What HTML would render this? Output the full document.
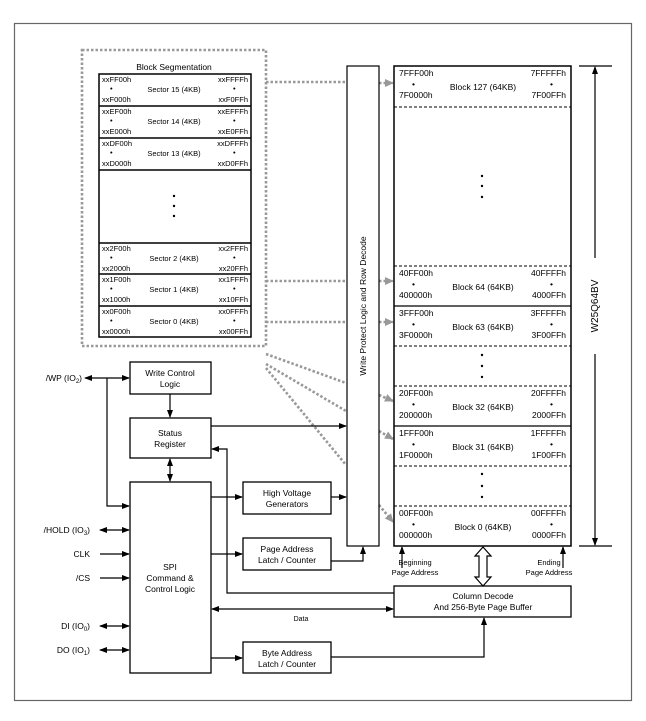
<!DOCTYPE html>
<html><head><meta charset="utf-8"><style>
body{margin:0;background:#fff}
svg{display:block;font-family:"Liberation Sans",Arial,sans-serif}
</style></head><body>
<svg width="646" height="721" viewBox="0 0 646 721" xmlns="http://www.w3.org/2000/svg">
<defs>
<marker id="a" markerWidth="8" markerHeight="6" refX="7" refY="3" orient="auto" markerUnits="userSpaceOnUse"><path d="M0,0 L8,3 L0,6z" fill="#000"/></marker>
<marker id="s" markerWidth="8" markerHeight="6" refX="1" refY="3" orient="auto" markerUnits="userSpaceOnUse"><path d="M8,0 L0,3 L8,6z" fill="#000"/></marker>
<marker id="g" markerWidth="9" markerHeight="8" refX="8" refY="4" orient="auto" markerUnits="userSpaceOnUse"><path d="M0,0 L9,4 L0,8z" fill="#999"/></marker>
</defs>
<rect x="14.5" y="23.5" width="617" height="677" fill="none" stroke="#666" stroke-width="1.2"/>
<g fill="none" stroke="#999" stroke-width="2.6" stroke-dasharray="2.5 2">
<rect x="82" y="50" width="184" height="296"/>
<line x1="266" y1="82" x2="346" y2="82"/>
<line x1="379" y1="83" x2="393" y2="83" marker-end="url(#g)"/>
<line x1="266" y1="281" x2="346" y2="281"/>
<line x1="379" y1="281" x2="393" y2="281" marker-end="url(#g)"/>
<line x1="266" y1="322" x2="346" y2="322"/>
<line x1="379" y1="322" x2="393" y2="322" marker-end="url(#g)"/>
<line x1="266" y1="354" x2="346" y2="383"/>
<line x1="266" y1="364" x2="346" y2="411"/>
<line x1="266" y1="368" x2="346" y2="465"/>
<line x1="379" y1="395" x2="393" y2="401" marker-end="url(#g)"/>
<line x1="379" y1="431" x2="393" y2="439" marker-end="url(#g)"/>
<line x1="379" y1="505" x2="393" y2="522" marker-end="url(#g)"/>
</g>
<text x="174" y="70" font-size="8.5" text-anchor="middle">Block Segmentation</text>
<g stroke="#000" fill="none" stroke-width="1.5">
<rect x="99" y="74" width="152" height="263"/>
<line x1="99" y1="106" x2="251" y2="106"/><line x1="99" y1="138" x2="251" y2="138"/><line x1="99" y1="170" x2="251" y2="170"/>
<line x1="99" y1="243" x2="251" y2="243"/><line x1="99" y1="274" x2="251" y2="274"/><line x1="99" y1="306" x2="251" y2="306"/>
</g>
<g font-size="7.5">
<g transform="translate(0,74)"><text x="102" y="8">xxFF00h</text><text x="110" y="17">•</text><text x="102" y="28">xxF000h</text><text x="174" y="18" text-anchor="middle">Sector 15 (4KB)</text><text x="248" y="8" text-anchor="end">xxFFFFh</text><text x="233" y="17">•</text><text x="248" y="28" text-anchor="end">xxF0FFh</text></g>
<g transform="translate(0,106)"><text x="102" y="8">xxEF00h</text><text x="110" y="17">•</text><text x="102" y="28">xxE000h</text><text x="174" y="18" text-anchor="middle">Sector 14 (4KB)</text><text x="248" y="8" text-anchor="end">xxEFFFh</text><text x="233" y="17">•</text><text x="248" y="28" text-anchor="end">xxE0FFh</text></g>
<g transform="translate(0,138)"><text x="102" y="8">xxDF00h</text><text x="110" y="17">•</text><text x="102" y="28">xxD000h</text><text x="174" y="18" text-anchor="middle">Sector 13 (4KB)</text><text x="248" y="8" text-anchor="end">xxDFFFh</text><text x="233" y="17">•</text><text x="248" y="28" text-anchor="end">xxD0FFh</text></g>
<g transform="translate(0,243)"><text x="102" y="8">xx2F00h</text><text x="110" y="17">•</text><text x="102" y="28">xx2000h</text><text x="174" y="18" text-anchor="middle">Sector 2 (4KB)</text><text x="248" y="8" text-anchor="end">xx2FFFh</text><text x="233" y="17">•</text><text x="248" y="28" text-anchor="end">xx20FFh</text></g>
<g transform="translate(0,274)"><text x="102" y="8">xx1F00h</text><text x="110" y="17">•</text><text x="102" y="28">xx1000h</text><text x="174" y="18" text-anchor="middle">Sector 1 (4KB)</text><text x="248" y="8" text-anchor="end">xx1FFFh</text><text x="233" y="17">•</text><text x="248" y="28" text-anchor="end">xx10FFh</text></g>
<g transform="translate(0,306)"><text x="102" y="8">xx0F00h</text><text x="110" y="17">•</text><text x="102" y="28">xx0000h</text><text x="174" y="18" text-anchor="middle">Sector 0 (4KB)</text><text x="248" y="8" text-anchor="end">xx0FFFh</text><text x="233" y="17">•</text><text x="248" y="28" text-anchor="end">xx00FFh</text></g>
</g>
<g fill="#000"><circle cx="174" cy="196" r="1.2"/><circle cx="174" cy="206" r="1.2"/><circle cx="174" cy="216" r="1.2"/></g>

<rect x="347" y="66" width="32" height="480" fill="none" stroke="#000" stroke-width="1.2"/>
<text transform="translate(366,306) rotate(-90)" font-size="8.5" text-anchor="middle">Write Protect Logic and Row Decode</text>

<g stroke="#000" fill="none">
<rect x="394" y="66" width="177" height="480" stroke-width="1.5"/>
<g stroke-dasharray="3 2" stroke-width="1"><line x1="394" y1="107" x2="571" y2="107"/><line x1="394" y1="266" x2="571" y2="266"/><line x1="394" y1="346" x2="571" y2="346"/><line x1="394" y1="386" x2="571" y2="386"/><line x1="394" y1="466" x2="571" y2="466"/><line x1="394" y1="506" x2="571" y2="506"/></g>
<line x1="394" y1="306" x2="571" y2="306" stroke-width="1.2"/><line x1="394" y1="426" x2="571" y2="426" stroke-width="1.2"/>
</g>
<g font-size="8.5">
<g transform="translate(0,66)"><text x="399" y="10">7FFF00h</text><text x="412" y="21">•</text><text x="399" y="32">7F0000h</text><text x="483" y="24" text-anchor="middle">Block 127 (64KB)</text><text x="566" y="10" text-anchor="end">7FFFFFh</text><text x="550" y="21">•</text><text x="566" y="32" text-anchor="end">7F00FFh</text></g>
<g transform="translate(0,266)"><text x="399" y="10">40FF00h</text><text x="412" y="21">•</text><text x="399" y="32">400000h</text><text x="483" y="24" text-anchor="middle">Block 64 (64KB)</text><text x="566" y="10" text-anchor="end">40FFFFh</text><text x="550" y="21">•</text><text x="566" y="32" text-anchor="end">4000FFh</text></g>
<g transform="translate(0,306)"><text x="399" y="10">3FFF00h</text><text x="412" y="21">•</text><text x="399" y="32">3F0000h</text><text x="483" y="24" text-anchor="middle">Block 63 (64KB)</text><text x="566" y="10" text-anchor="end">3FFFFFh</text><text x="550" y="21">•</text><text x="566" y="32" text-anchor="end">3F00FFh</text></g>
<g transform="translate(0,386)"><text x="399" y="10">20FF00h</text><text x="412" y="21">•</text><text x="399" y="32">200000h</text><text x="483" y="24" text-anchor="middle">Block 32 (64KB)</text><text x="566" y="10" text-anchor="end">20FFFFh</text><text x="550" y="21">•</text><text x="566" y="32" text-anchor="end">2000FFh</text></g>
<g transform="translate(0,426)"><text x="399" y="10">1FFF00h</text><text x="412" y="21">•</text><text x="399" y="32">1F0000h</text><text x="483" y="24" text-anchor="middle">Block 31 (64KB)</text><text x="566" y="10" text-anchor="end">1FFFFFh</text><text x="550" y="21">•</text><text x="566" y="32" text-anchor="end">1F00FFh</text></g>
<g transform="translate(0,506)"><text x="399" y="10">00FF00h</text><text x="412" y="21">•</text><text x="399" y="32">000000h</text><text x="483" y="24" text-anchor="middle">Block 0 (64KB)</text><text x="566" y="10" text-anchor="end">00FFFFh</text><text x="550" y="21">•</text><text x="566" y="32" text-anchor="end">0000FFh</text></g>
</g>
<g fill="#000"><circle cx="482" cy="176" r="1.2"/><circle cx="482" cy="186" r="1.2"/><circle cx="482" cy="197" r="1.2"/>
<circle cx="482" cy="355" r="1.2"/><circle cx="482" cy="366" r="1.2"/><circle cx="482" cy="377" r="1.2"/>
<circle cx="482" cy="474" r="1.2"/><circle cx="482" cy="486" r="1.2"/><circle cx="482" cy="497" r="1.2"/></g>

<g stroke="#000" stroke-width="1.2" fill="none">
<line x1="579" y1="66" x2="612" y2="66"/><line x1="579" y1="546" x2="612" y2="546"/>
<line x1="595" y1="258" x2="595" y2="67" marker-end="url(#a)"/>
<line x1="595" y1="354" x2="595" y2="545" marker-end="url(#a)"/>
</g>
<text transform="translate(598,306) rotate(-90)" font-size="10" text-anchor="middle">W25Q64BV</text>

<g stroke="#000" stroke-width="1.3" fill="none">
<rect x="130" y="362" width="81" height="32"/>
<rect x="130" y="418" width="81" height="40"/>
<rect x="130" y="482" width="81" height="191"/>
<rect x="243" y="482" width="88" height="32"/>
<rect x="243" y="538" width="88" height="32"/>
<rect x="243" y="642" width="88" height="31"/>
<rect x="394" y="586" width="177" height="31"/>
</g>
<g font-size="8.5" text-anchor="middle">
<text x="170" y="376">Write Control</text><text x="170" y="387">Logic</text>
<text x="170" y="436">Status</text><text x="170" y="447">Register</text>
<text x="170" y="570">SPI</text><text x="170" y="581">Command &amp;</text><text x="170" y="592">Control Logic</text>
<text x="287" y="496">High Voltage</text><text x="287" y="507">Generators</text>
<text x="287" y="552">Page Address</text><text x="287" y="563">Latch / Counter</text>
<text x="287" y="656">Byte Address</text><text x="287" y="667">Latch / Counter</text>
<text x="483" y="599">Column Decode</text><text x="483" y="610">And 256-Byte Page Buffer</text>
<text x="301" y="621" font-size="7">Data</text>
<text x="415" y="565" font-size="7.5">Beginning</text><text x="415" y="575" font-size="7.5">Page Address</text>
<text x="549" y="565" font-size="7.5">Ending</text><text x="549" y="575" font-size="7.5">Page Address</text>
</g>
<g font-size="8.5" text-anchor="end">
<text x="82" y="381">/WP (IO<tspan font-size="6" dy="2">2</tspan><tspan dy="-2">)</tspan></text>
<text x="90" y="533">/HOLD (IO<tspan font-size="6" dy="2">3</tspan><tspan dy="-2">)</tspan></text>
<text x="90" y="557">CLK</text>
<text x="90" y="581">/CS</text>
<text x="90" y="629">DI (IO<tspan font-size="6" dy="2">0</tspan><tspan dy="-2">)</tspan></text>
<text x="90" y="653">DO (IO<tspan font-size="6" dy="2">1</tspan><tspan dy="-2">)</tspan></text>
</g>
<g stroke="#000" stroke-width="1.2" fill="none">
<line x1="85" y1="378" x2="129" y2="378" marker-start="url(#s)" marker-end="url(#a)"/>
<polyline points="107,378 107,506 129,506" marker-end="url(#a)"/>
<line x1="170" y1="394" x2="170" y2="417" marker-end="url(#a)"/>
<line x1="170" y1="459" x2="170" y2="481" marker-start="url(#s)" marker-end="url(#a)"/>
<line x1="100" y1="530" x2="129" y2="530" marker-start="url(#s)" marker-end="url(#a)"/>
<line x1="100" y1="554" x2="129" y2="554" marker-end="url(#a)"/>
<line x1="100" y1="578" x2="129" y2="578" marker-end="url(#a)"/>
<line x1="100" y1="626" x2="129" y2="626" marker-start="url(#s)" marker-end="url(#a)"/>
<line x1="100" y1="650" x2="129" y2="650" marker-start="url(#s)" marker-end="url(#a)"/>
<line x1="211" y1="426" x2="346" y2="426" marker-end="url(#a)"/>
<polyline points="394,593 227,593 227,449 212,449" marker-end="url(#a)"/>
<line x1="211" y1="497" x2="242" y2="497" marker-end="url(#a)"/>
<line x1="211" y1="554" x2="242" y2="554" marker-end="url(#a)"/>
<line x1="211" y1="658" x2="242" y2="658" marker-end="url(#a)"/>
<line x1="331" y1="497" x2="346" y2="497" marker-end="url(#a)"/>
<polyline points="331,561 363,561 363,547" marker-end="url(#a)"/>
<line x1="393" y1="609" x2="212" y2="609" marker-start="url(#s)" marker-end="url(#a)"/>
<polyline points="331,657 484,657 484,618" marker-end="url(#a)"/>
<line x1="402" y1="568" x2="402" y2="547" marker-end="url(#a)"/>
<line x1="563" y1="568" x2="563" y2="547" marker-end="url(#a)"/>
</g>
<path d="M483,547 L491,556 L487,556 L487,577 L491,577 L483,586 L475,577 L479,577 L479,556 L475,556 Z" fill="#fff" stroke="#000" stroke-width="1.2"/>
</svg>
</body></html>
